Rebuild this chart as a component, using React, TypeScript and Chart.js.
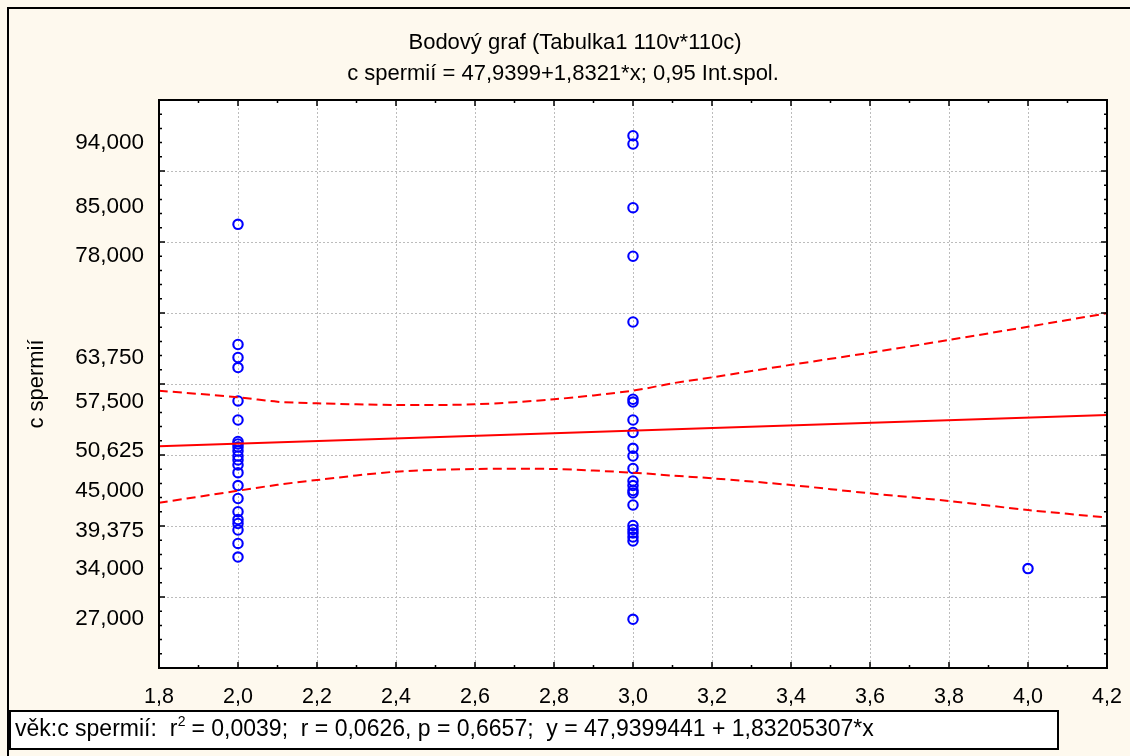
import React, { useEffect, useRef } from 'react';
import { Chart, registerables } from 'chart.js';

Chart.register(...registerables);

const W = 1130;
const H = 756;
const FONT = '"Liberation Sans", Arial, Helvetica, sans-serif';

// ---- text ----
const titleLine1 = 'Bodový graf (Tabulka1 110v*110c)';
const titleLine2 = 'c spermií = 47,9399+1,8321*x; 0,95 Int.spol.';
const yAxisTitle = 'c spermií';
const statsPart1 = 'věk:c spermií:  r';
const statsSup = '2';
const statsPart2 = ' = 0,0039;  r = 0,0626, p = 0,6657;  y = 47,9399441 + 1,83205307*x';

// ---- axes ----
const xMin = 1.8;
const xMax = 4.2;
const yMin = 20;
const yMax = 100;
const xTickLabels = [1.8, 2.0, 2.2, 2.4, 2.6, 2.8, 3.0, 3.2, 3.4, 3.6, 3.8, 4.0, 4.2];
const yTickLabels = [94, 85, 78, 63.75, 57.5, 50.625, 45, 39.375, 34, 27];
const xGridValues = [2.0, 2.2, 2.4, 2.6, 2.8, 3.0, 3.2, 3.4, 3.6, 3.8, 4.0];
const yGridValues = [30, 40, 50, 60, 70, 80, 90];
const xMinorStep = 0.1;
const yMinorStep = 2;

// ---- data: věk (x) vs c spermií (y) ----
const valuesAt2 = [82.49, 65.56, 63.73, 62.32, 57.61, 54.93, 51.9, 51.55, 51.13, 50.56, 49.86, 49.3,
  48.59, 47.51, 45.7, 43.87, 42.01, 40.91, 40.35, 39.44, 37.54, 35.63];
const valuesAt3 = [94.97, 93.8, 84.83, 77.99, 68.73, 57.85, 57.46, 54.93, 53.17, 50.94, 49.86, 48.1,
  46.34, 45.7, 45.0, 44.65, 42.96, 40.07, 39.51, 39.01, 38.45, 37.89, 26.86];
const valuesAt4 = [34.0];

// regression line (read at the ends of the x range)
const fitX = [1.8, 4.2];
const fitY = [51.24, 55.63];

// 0.95 confidence band
const bandX = [1.8, 2.0, 2.1, 2.2, 2.4, 2.6, 2.8, 3.0, 3.1, 3.2, 3.4, 3.6, 3.8, 4.0, 4.2];
const bandUpper = [59.06, 58.13, 57.5, 57.28, 57.04, 57.14, 57.85, 59.06, 60.1, 60.94, 62.7, 64.4, 66.2, 68.07, 69.96];
const bandLower = [43.28, 44.97, 45.8, 46.48, 47.65, 48.03, 48.03, 47.51, 47.1, 46.72, 45.77, 44.6, 43.52, 42.25, 41.2];

const fmt = (v: number, d: number) => v.toFixed(d).replace('.', ',');

const decor = {
  id: 'decor',
  beforeDraw(chart: any) {
    const { ctx, chartArea: a } = chart;
    ctx.save();
    ctx.fillStyle = '#fef9ee';
    ctx.fillRect(0, 0, W, H);
    ctx.strokeStyle = '#000';
    ctx.lineWidth = 2;
    ctx.strokeRect(8, 8, W + 20, H + 20);
    ctx.fillStyle = '#ffffff';
    ctx.fillRect(a.left, a.top, a.right - a.left, a.bottom - a.top);
    ctx.restore();
  },
  beforeDatasetsDraw(chart: any) {
    const { ctx, chartArea: a, scales } = chart;
    const xs = scales.x;
    const ys = scales.y;
    ctx.save();
    ctx.strokeStyle = '#bcbcbc';
    ctx.lineWidth = 1;
    ctx.setLineDash([2, 2]);
    for (const v of xGridValues) {
      const px = Math.round(xs.getPixelForValue(v)) + 0.5;
      ctx.beginPath();
      ctx.moveTo(px, a.top);
      ctx.lineTo(px, a.bottom);
      ctx.stroke();
    }
    for (const v of yGridValues) {
      const py = Math.round(ys.getPixelForValue(v)) + 0.5;
      ctx.beginPath();
      ctx.moveTo(a.left, py);
      ctx.lineTo(a.right, py);
      ctx.stroke();
    }
    ctx.restore();
  },
  afterDraw(chart: any) {
    const { ctx, chartArea: a, scales } = chart;
    const xs = scales.x;
    const ys = scales.y;
    ctx.save();
    // frame
    ctx.strokeStyle = '#000';
    ctx.lineWidth = 2;
    ctx.strokeRect(a.left, a.top, a.right - a.left, a.bottom - a.top);
    // tick marks (inward on all four sides)
    ctx.lineWidth = 1.5;
    const nX = Math.round((xMax - xMin) / xMinorStep);
    for (let i = 0; i <= nX; i++) {
      const v = xMin + i * xMinorStep;
      const major = i % 2 === 0;
      const len = major ? 6 : 3;
      const px = xs.getPixelForValue(v);
      ctx.beginPath();
      ctx.moveTo(px, a.bottom);
      ctx.lineTo(px, a.bottom - len);
      ctx.moveTo(px, a.top);
      ctx.lineTo(px, a.top + len);
      ctx.stroke();
    }
    const nY = Math.round((yMax - yMin) / yMinorStep);
    for (let i = 0; i <= nY; i++) {
      const v = yMin + i * yMinorStep;
      const major = i % 5 === 0;
      const len = major ? 6 : 3;
      const py = ys.getPixelForValue(v);
      ctx.beginPath();
      ctx.moveTo(a.left, py);
      ctx.lineTo(a.left + len, py);
      ctx.moveTo(a.right, py);
      ctx.lineTo(a.right - len, py);
      ctx.stroke();
    }
    // titles
    ctx.fillStyle = '#000';
    ctx.font = `22px ${FONT}`;
    ctx.textAlign = 'center';
    ctx.textBaseline = 'alphabetic';
    ctx.fillText(titleLine1, 575, 48.5);
    ctx.fillText(titleLine2, 563, 79.5);
    // y axis title
    ctx.save();
    ctx.translate(37, (a.top + a.bottom) / 2);
    ctx.rotate(-Math.PI / 2);
    ctx.textBaseline = 'middle';
    ctx.fillText(yAxisTitle, 0, 0);
    ctx.restore();
    // statistics box
    ctx.fillStyle = '#ffffff';
    ctx.fillRect(10, 711, 1048, 38);
    ctx.strokeStyle = '#000';
    ctx.lineWidth = 2;
    ctx.strokeRect(10, 711, 1048, 38);
    ctx.fillStyle = '#000';
    ctx.textAlign = 'left';
    ctx.textBaseline = 'alphabetic';
    ctx.font = `23px ${FONT}`;
    let x = 15;
    const base = 736;
    ctx.fillText(statsPart1, x, base);
    x += ctx.measureText(statsPart1).width;
    ctx.font = `14px ${FONT}`;
    ctx.fillText(statsSup, x + 0.5, base - 10);
    x += ctx.measureText(statsSup).width;
    ctx.font = `23px ${FONT}`;
    ctx.fillText(statsPart2, x, base);
    ctx.restore();
  },
};

export default function App() {
  const ref = useRef<HTMLCanvasElement | null>(null);

  useEffect(() => {
    if (!ref.current) return;
    const pts = (xv: number, arr: number[]) => arr.map((y) => ({ x: xv, y }));
    const pointStyle = {
      showLine: false,
      pointRadius: 4.7,
      pointBorderWidth: 2.1,
      pointBorderColor: '#0000ff',
      pointBackgroundColor: 'rgba(0,0,0,0)',
      borderColor: '#0000ff',
      backgroundColor: 'rgba(0,0,0,0)',
    };
    const chart = new Chart(ref.current, {
      type: 'scatter',
      data: {
        datasets: [
          {
            label: 'fit',
            data: fitX.map((x, i) => ({ x, y: fitY[i] })),
            showLine: true,
            borderColor: '#ff0000',
            borderWidth: 2,
            pointRadius: 0,
          },
          {
            label: 'upper',
            data: bandX.map((x, i) => ({ x, y: bandUpper[i] })),
            showLine: true,
            borderColor: '#ff0000',
            borderWidth: 2,
            borderDash: [9, 5],
            tension: 0.3,
            pointRadius: 0,
          },
          {
            label: 'lower',
            data: bandX.map((x, i) => ({ x, y: bandLower[i] })),
            showLine: true,
            borderColor: '#ff0000',
            borderWidth: 2,
            borderDash: [9, 5],
            tension: 0.3,
            pointRadius: 0,
          },
          { label: 'x2', data: pts(2, valuesAt2), ...pointStyle },
          { label: 'x3', data: pts(3, valuesAt3), ...pointStyle },
          { label: 'x4', data: pts(4, valuesAt4), ...pointStyle },
        ],
      } as any,
      options: {
        animation: false,
        responsive: false,
        devicePixelRatio: 1,
        events: [],
        layout: { padding: { top: 100, right: 23, bottom: 0, left: 0 } },
        plugins: {
          legend: { display: false },
          tooltip: { enabled: false },
          title: { display: false },
        },
        scales: {
          x: {
            type: 'linear',
            min: xMin,
            max: xMax,
            afterFit: (s: any) => {
              s.height = H - 668;
              s.paddingLeft = 0;
              s.paddingRight = 0;
            },
            afterBuildTicks: (s: any) => { s.ticks = xTickLabels.map((value) => ({ value })); },
            grid: { display: false, drawTicks: false },
            border: { display: false },
            ticks: {
              autoSkip: false,
              maxRotation: 0,
              padding: 16,
              color: '#000',
              font: { family: FONT, size: 21.5 },
              callback: (v: any) => fmt(Number(v), 1),
            },
          },
          y: {
            type: 'linear',
            min: yMin,
            max: yMax,
            afterFit: (s: any) => {
              s.width = 159;
              s.paddingTop = 0;
              s.paddingBottom = 0;
            },
            afterBuildTicks: (s: any) => { s.ticks = yTickLabels.map((value) => ({ value })); },
            grid: { display: false, drawTicks: false },
            border: { display: false },
            ticks: {
              autoSkip: false,
              padding: 15,
              color: '#000',
              font: { family: FONT, size: 22.5 },
              callback: (v: any) => fmt(Number(v), 3),
            },
          },
        },
      } as any,
      plugins: [decor],
    });
    return () => chart.destroy();
  }, []);

  return (
    <div style={{ position: 'fixed', left: 0, top: 0, width: W, height: H, background: '#fef9ee' }}>
      <canvas ref={ref} width={W} height={H} style={{ display: 'block', width: W, height: H }} />
    </div>
  );
}
